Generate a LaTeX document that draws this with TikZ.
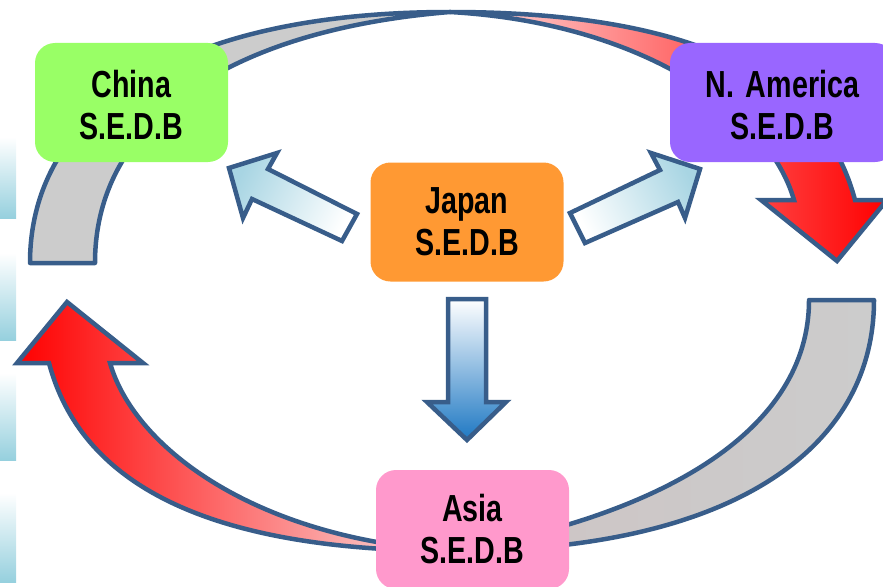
\documentclass[tikz,border=0pt]{standalone}
\usepackage{fontspec}
\setmainfont{Liberation Sans}[FakeStretch=0.76]
\definecolor{edge}{RGB}{56,93,138}
\definecolor{lbar}{RGB}{150,208,222}
\definecolor{lblue}{RGB}{178,218,230}
\definecolor{hblue}{RGB}{168,213,227}
\definecolor{dblue}{RGB}{30,120,195}
\definecolor{bandgray}{RGB}{204,204,204}
\definecolor{pinkgray}{RGB}{205,196,196}
\definecolor{palered}{RGB}{255,225,225}
\definecolor{palered2}{RGB}{250,228,228}
\definecolor{cgreen}{RGB}{153,255,102}
\definecolor{cpurple}{RGB}{153,102,255}
\definecolor{corange}{RGB}{255,153,51}
\definecolor{cpink}{RGB}{255,153,204}
\begin{document}
\begin{tikzpicture}[x=1pt,y=-1pt,
  box/.style={rounded corners=20pt, minimum width=193pt, minimum height=119pt,
    inner sep=0pt, align=center},
  boxtext/.style={inner sep=0pt, align=center, font=\fontsize{37.7}{42}\selectfont\bfseries},
  band/.style={draw=edge, line width=4.5pt, line join=round},
  blockarrow/.style={draw=edge, line width=4.5pt, line join=miter},
  diagshade/.style={top color=hblue, middle color=white, bottom color=white, shading angle=#1},
  sidebar/.style={top color=white, bottom color=lbar}]
\useasboundingbox (0,0) rectangle (883,586);
\clip (0,0) rectangle (883,586);

% background bars at the left edge
\shade[sidebar] (0,137) rectangle (16,218);
\shade[sidebar] (0,253) rectangle (16,340);
\shade[sidebar] (0,373) rectangle (16,460);
\shade[sidebar] (0,493) rectangle (16,582);

% gray band, upper left
\path[band, fill=bandgray]
  (30,263) .. controls (30,113) and (174,12) .. (450,12)
  .. controls (230,30) and (95,120) .. (95,263) -- cycle;

% gray band, lower right
\path[band, left color=pinkgray, right color=bandgray]
  (874,300) .. controls (874,450) and (730,551) .. (454,551)
  .. controls (664,515) and (809,430) .. (809,300) -- cycle;

% red curved arrow, upper right
\path[band, line join=miter, left color=palered, right color=red]
  (794,200) .. controls (769,113) and (644,23) .. (450,12)
  .. controls (704,12) and (824,83) .. (855,200)
  -- (887,200) -- (837,261) -- (761,200) -- cycle;

% red curved arrow, lower left
\path[band, line join=miter, left color=red, right color=palered2]
  (110,363) .. controls (135,450) and (260,540) .. (454,551)
  .. controls (200,551) and (80,480) .. (49,363)
  -- (17,363) -- (67,302) -- (143,363) -- cycle;

% boxes
\node[box, fill=cgreen] (china) at (131.5,102.5) {};
\node[boxtext] (chinatext) at (131.5,105.5) {China\\S.E.D.B};
\node[box, fill=cpurple, minimum width=225pt] (namerica) at (782.5,102.5) {};
\node[boxtext] (namericatext) at (782.5,105.5) {N.\hspace{0.3em}America\\S.E.D.B};
\node[box, fill=corange] (japan) at (467,222) {};
\node[boxtext] (japantext) at (467,222) {Japan\\S.E.D.B};
\node[box, fill=cpink] (asia) at (472.5,529.5) {};
\node[boxtext] (asiatext) at (472.5,529.5) {Asia\\S.E.D.B};

% block arrows from Japan
\path[blockarrow, diagshade=63.6]
  (229,168) -- (277,153) -- (268,169) -- (357,214) -- (342,241)
  -- (252,199) -- (243,218) -- cycle;
\path[blockarrow, diagshade=-63.6]
  (700,169) -- (651,153) -- (660,170) -- (570,213) -- (585,243)
  -- (678,202) -- (685,218) -- cycle;
\path[blockarrow, top color=white, middle color=lblue, bottom color=dblue]
  (448,299) -- (486,299) -- (486,402) -- (506,402) -- (467,440)
  -- (427,402) -- (448,402) -- cycle;
\end{tikzpicture}
\end{document}
